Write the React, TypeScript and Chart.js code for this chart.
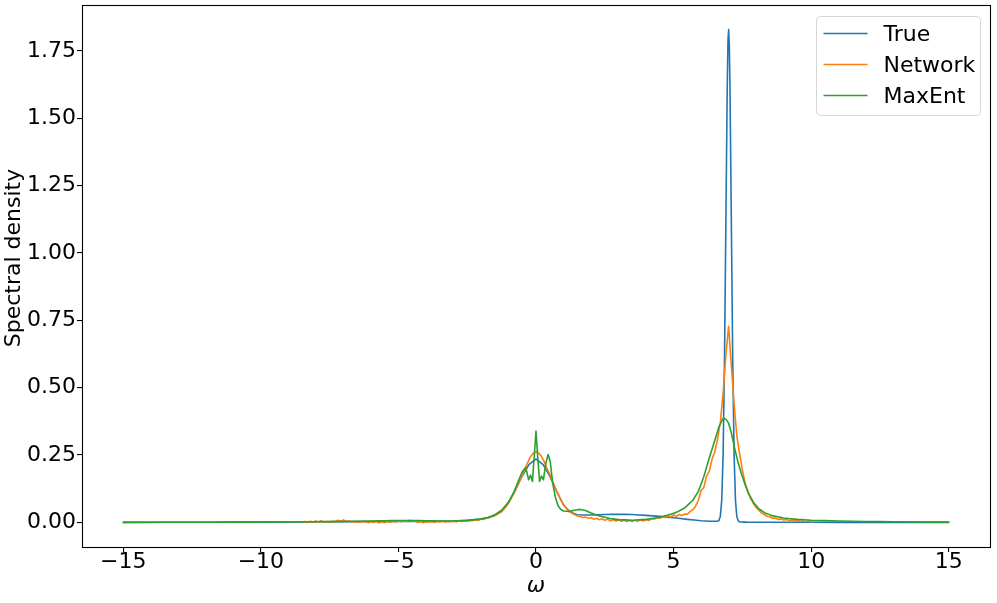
import React, { useEffect, useRef } from "react";
import { Chart, registerables } from "chart.js";

Chart.register(...registerables);

const FONT = '"DejaVu Sans", "Liberation Sans", sans-serif';

const xTickValues = [-15, -10, -5, 0, 5, 10, 15];
const yTickValues = [0, 0.25, 0.5, 0.75, 1, 1.25, 1.5, 1.75];
const seriesLabels = ["True", "Network", "MaxEnt"];
const seriesColors = ["#1f77b4", "#ff7f0e", "#2ca02c"];

const trueX = [
  -15, -12, -10, -8, -6, -4, -3, -2.5, -2, -1.75, -1.5, -1.25, -1, -0.75, -0.5, -0.25, 0, 0.25, 0.5, 0.75,
  1, 1.25, 1.5, 2, 2.5, 3, 3.5, 4, 4.5, 5, 5.5, 6, 6.3, 6.5, 6.6, 6.65, 6.7, 6.75, 6.8, 6.85,
  6.9, 6.95, 6.975, 7, 7.025, 7.05, 7.1, 7.15, 7.2, 7.25, 7.3, 7.35, 7.4, 7.5, 7.7, 8, 9, 10, 12, 15,
];
const trueY = [
  0, 0.0005, 0.001, 0.002, 0.003, 0.003, 0.005, 0.008, 0.012, 0.018, 0.025, 0.04, 0.072, 0.12, 0.172, 0.215, 0.235, 0.215, 0.172, 0.115,
  0.065, 0.038, 0.028, 0.027, 0.029, 0.03, 0.029, 0.026, 0.022, 0.017, 0.011, 0.006, 0.004, 0.004, 0.004, 0.007, 0.023, 0.083, 0.25, 0.596,
  1.11, 1.615, 1.774, 1.83, 1.774, 1.615, 1.11, 0.594, 0.248, 0.08, 0.021, 0.006, 0.002, 0.001, 0.0005, 0.0003, 0.0002, 0.0001, 0, 0,
];

const netX = [
  -8.5, -8.4, -8.3, -8.2, -8.1, -8.0, -7.9, -7.8, -7.7, -7.6,
  -7.5, -7.4, -7.3, -7.2, -7.1, -7.0, -6.9, -6.8, -6.7, -6.6,
  -6.5, -6.4, -6.3, -6.2, -6.1, -6.0, -5.9, -5.8, -5.7, -5.6,
  -5.5, -5.4, -5.3, -5.2, -5.1, -5.0, -4.9, -4.8, -4.7, -4.6,
  -4.5, -4.4, -4.3, -4.2, -4.1, -4.0, -3.9, -3.8, -3.7, -3.6,
  -3.5, -3.4, -3.3, -3.2, -3.1, -3.0, -2.9, -2.8, -2.7, -2.6,
  -2.5, -2.4, -2.3, -2.2, -2.1, -2.0, -1.9, -1.8, -1.7, -1.6,
  -1.5, -1.4, -1.3, -1.2, -1.1, -1.0, -0.9, -0.8, -0.7, -0.6,
  -0.5, -0.4, -0.3, -0.2, -0.1, 0.0, 0.1, 0.2, 0.3, 0.4,
  0.5, 0.6, 0.7, 0.8, 0.9, 1.0, 1.1, 1.2, 1.3, 1.4,
  1.5, 1.6, 1.7, 1.8, 1.9, 2.0, 2.1, 2.2, 2.3, 2.4,
  2.5, 2.6, 2.7, 2.8, 2.9, 3.0, 3.1, 3.2, 3.3, 3.4,
  3.5, 3.6, 3.7, 3.8, 3.9, 4.0, 4.1, 4.2, 4.3, 4.4,
  4.5, 4.6, 4.7, 4.8, 4.9, 5.0, 5.1, 5.2, 5.3, 5.4,
  5.5, 5.6, 5.7, 5.8, 5.9, 6.0, 6.1, 6.2, 6.3, 6.4,
  6.5, 6.6, 6.7, 6.8, 6.9, 7.0, 7.1, 7.2, 7.3, 7.4,
  7.5, 7.6, 7.7, 7.8, 7.9, 8.0, 8.1, 8.2, 8.3, 8.4,
  8.5, 8.6, 8.7, 8.8, 8.9, 9.0, 9.1, 9.2, 9.3, 9.4,
  9.5, 9.6, 9.7, 9.8, 9.9, 10.0,
];
const netY = [
  0.001, 0.003, -0.001, 0.004, 0.001, 0.005, 0.002, 0.006, 0.001, 0.003,
  0.0, 0.004, 0.002, 0.008, 0.004, 0.009, 0.003, 0.005, 0.001, 0.003,
  0.0, 0.002, 0.001, 0.003, -0.001, 0.002, 0.0, 0.003, -0.002, 0.002,
  -0.001, 0.003, 0.0, 0.004, 0.001, 0.005, 0.002, 0.006, 0.003, 0.008,
  0.004, 0.006, 0.0, 0.003, -0.001, 0.002, 0.001, 0.003, 0.0, 0.003,
  0.001, 0.004, 0.001, 0.003, 0.002, 0.004, 0.002, 0.005, 0.003, 0.006,
  0.004, 0.007, 0.006, 0.009, 0.008, 0.012, 0.011, 0.016, 0.017, 0.022,
  0.026, 0.031, 0.038, 0.046, 0.057, 0.072, 0.09, 0.108, 0.13, 0.152,
  0.176, 0.198, 0.222, 0.243, 0.256, 0.262, 0.257, 0.245, 0.225, 0.2,
  0.178, 0.152, 0.128, 0.105, 0.083, 0.066, 0.052, 0.042, 0.034, 0.029,
  0.024, 0.022, 0.018, 0.02, 0.015, 0.017, 0.012, 0.015, 0.01, 0.013,
  0.008, 0.012, 0.006, 0.01, 0.005, 0.009, 0.004, 0.008, 0.003, 0.007,
  0.003, 0.008, 0.004, 0.009, 0.005, 0.01, 0.007, 0.013, 0.012, 0.018,
  0.015, 0.021, 0.018, 0.024, 0.02, 0.027, 0.022, 0.029, 0.025, 0.031,
  0.03, 0.04, 0.047, 0.06, 0.082, 0.118, 0.13, 0.172, 0.19, 0.235,
  0.262, 0.31, 0.37, 0.48, 0.62, 0.728, 0.58, 0.44, 0.32, 0.255,
  0.195, 0.145, 0.115, 0.088, 0.07, 0.055, 0.045, 0.034, 0.029, 0.022,
  0.021, 0.015, 0.016, 0.011, 0.013, 0.009, 0.011, 0.007, 0.009, 0.005,
  0.007, 0.004, 0.006, 0.003, 0.005, 0.002,
];

const maxEntX = [
  -15, -12, -10, -8, -7, -6, -5.5, -5, -4.5, -4, -3.5, -3, -2.5, -2, -1.75, -1.5, -1.25, -1, -0.8, -0.6,
  -0.5, -0.37, -0.27, -0.2, -0.13, -0.06, 0, 0.06, 0.13, 0.2, 0.27, 0.35, 0.44, 0.52, 0.6, 0.7, 0.8, 0.9, 1.0, 1.2,
  1.4, 1.6, 1.8, 2.0, 2.3, 2.7, 3.0, 3.5, 4.0, 4.4, 4.8, 5.1, 5.4, 5.7, 5.9, 6.1, 6.3, 6.5, 6.65, 6.8,
  6.9, 7.0, 7.1, 7.23, 7.35, 7.48, 7.6, 7.72, 7.9, 8.08, 8.3, 8.57, 9.0, 9.5, 10, 11, 12, 13, 15,
];
const maxEntY = [
  0, 0.0005, 0.001, 0.002, 0.003, 0.005, 0.006, 0.007, 0.007, 0.006, 0.005, 0.005, 0.007, 0.012, 0.018, 0.028, 0.045, 0.075, 0.113, 0.163,
  0.188, 0.204, 0.158, 0.175, 0.152, 0.25, 0.339, 0.245, 0.152, 0.172, 0.158, 0.215, 0.252, 0.225, 0.15, 0.095, 0.062, 0.048, 0.042, 0.04,
  0.045, 0.048, 0.044, 0.035, 0.024, 0.014, 0.01, 0.008, 0.011, 0.017, 0.027, 0.037, 0.053, 0.082, 0.115, 0.17, 0.24, 0.305, 0.355, 0.386,
  0.383, 0.368, 0.332, 0.27, 0.22, 0.176, 0.14, 0.108, 0.075, 0.052, 0.036, 0.025, 0.016, 0.011, 0.008, 0.005, 0.003, 0.002, 0.001,
];

function toPoints(xs: number[], ys: number[]) {
  return xs.map((x, i) => ({ x, y: ys[i] }));
}

function fmtX(v: number) {
  return v < 0 ? "\u2212" + Math.abs(v) : String(v);
}

const LINE_W = 1.6;

const framePlugin = {
  id: "frameLegendTitle",
  afterDraw(chart: any) {
    const { ctx, chartArea: a } = chart;
    const L = Math.round(a.left);
    const T = Math.round(a.top);
    const R = Math.round(a.right);
    const B = Math.round(a.bottom);
    ctx.save();
    // frame
    ctx.strokeStyle = "#000";
    ctx.lineWidth = 1.1;
    ctx.strokeRect(L + 0.5, T + 0.5, R - L, B - T);

    // y-axis title
    ctx.save();
    ctx.translate(14.5, (T + B) / 2 - 18);
    ctx.rotate(-Math.PI / 2);
    ctx.font = `22px ${FONT}`;
    ctx.fillStyle = "#000";
    ctx.textAlign = "center";
    ctx.textBaseline = "middle";
    ctx.fillText("Spectral density", 0, 0);
    ctx.restore();

    // legend
    const boxW = 164;
    const boxH = 99;
    const bx = R - 10 - boxW + 0.5;
    const by = T + 11 + 0.5;
    ctx.beginPath();
    const r = 4;
    ctx.moveTo(bx + r, by);
    ctx.lineTo(bx + boxW - r, by);
    ctx.arcTo(bx + boxW, by, bx + boxW, by + r, r);
    ctx.lineTo(bx + boxW, by + boxH - r);
    ctx.arcTo(bx + boxW, by + boxH, bx + boxW - r, by + boxH, r);
    ctx.lineTo(bx + r, by + boxH);
    ctx.arcTo(bx, by + boxH, bx, by + boxH - r, r);
    ctx.lineTo(bx, by + r);
    ctx.arcTo(bx, by, bx + r, by, r);
    ctx.closePath();
    ctx.fillStyle = "rgba(255,255,255,0.8)";
    ctx.fill();
    ctx.strokeStyle = "rgba(204,204,204,0.8)";
    ctx.lineWidth = 1;
    ctx.stroke();

    ctx.font = `22px ${FONT}`;
    ctx.textAlign = "left";
    ctx.textBaseline = "middle";
    seriesLabels.forEach((lab, i) => {
      const cy = by + 17 + i * 31;
      ctx.beginPath();
      ctx.strokeStyle = seriesColors[i];
      ctx.lineWidth = LINE_W;
      ctx.moveTo(bx + 7, cy);
      ctx.lineTo(bx + 51, cy);
      ctx.stroke();
      ctx.fillStyle = "#000";
      ctx.fillText(lab, bx + 67, cy + 1.5);
    });
    ctx.restore();
  },
};

export default function App() {
  const canvasRef = useRef<HTMLCanvasElement | null>(null);

  useEffect(() => {
    if (!canvasRef.current) return;
    const tickFont = { family: FONT, size: 22, lineHeight: 0.9 };
    const lineStyle = {
      borderWidth: LINE_W,
      pointRadius: 0,
      fill: false,
      tension: 0.001,
      borderJoinStyle: "round",
      borderCapStyle: "round",
    };
    const chart = new Chart(canvasRef.current, {
      type: "line",
      data: {
        datasets: [
          {
            label: seriesLabels[0],
            data: toPoints(trueX, trueY),
            borderColor: seriesColors[0],
            backgroundColor: seriesColors[0],
            order: 2,
            ...lineStyle,
          },
          {
            label: seriesLabels[1],
            data: toPoints(netX, netY),
            borderColor: seriesColors[1],
            backgroundColor: seriesColors[1],
            order: 1,
            ...lineStyle,
          },
          {
            label: seriesLabels[2],
            data: toPoints(maxEntX, maxEntY),
            borderColor: seriesColors[2],
            backgroundColor: seriesColors[2],
            order: 0,
            ...lineStyle,
          },
        ],
      },
      options: {
        animation: false,
        responsive: false,
        devicePixelRatio: 1,
        events: [],
        layout: { padding: { top: 5, right: 7, bottom: 0, left: 0 } },
        plugins: {
          legend: { display: false },
          tooltip: { enabled: false },
          title: { display: false },
        },
        scales: {
          x: {
            type: "linear",
            min: -16.5,
            max: 16.5,
            afterBuildTicks: (s: any) => {
              s.ticks = xTickValues.map((v) => ({ value: v }));
            },
            afterFit: (s: any) => {
              s.height = 56;
              s.paddingLeft = 0;
              s.paddingRight = 0;
            },
            ticks: {
              font: tickFont,
              color: "#000",
              padding: 0,
              maxRotation: 0,
              minRotation: 0,
              autoSkip: false,
              callback: (v: any) => fmtX(Number(v)),
            },
            grid: {
              display: true,
              drawOnChartArea: false,
              drawTicks: true,
              tickLength: 5,
              color: "#000",
              lineWidth: 1.1,
            },
            border: { display: false },
            title: {
              display: true,
              text: "\u03c9",
              color: "#000",
              font: { family: FONT, size: 22, style: "italic", lineHeight: 1.2 },
              padding: { top: 0, bottom: 4 },
            },
          },
          y: {
            type: "linear",
            min: -0.0915,
            max: 1.92,
            afterBuildTicks: (s: any) => {
              s.ticks = yTickValues.map((v) => ({ value: v }));
            },
            afterFit: (s: any) => {
              s.width = 82;
              s.paddingTop = 0;
              s.paddingBottom = 0;
            },
            ticks: {
              font: tickFont,
              color: "#000",
              padding: 1,
              autoSkip: false,
              callback: (v: any) => Number(v).toFixed(2),
            },
            grid: {
              display: true,
              drawOnChartArea: false,
              drawTicks: true,
              tickLength: 5,
              color: "#000",
              lineWidth: 1.1,
            },
            border: { display: false },
            title: { display: false },
          },
        },
      },
      plugins: [framePlugin],
    } as any);
    return () => chart.destroy();
  }, []);

  return (
    <div style={{ position: "absolute", left: 0, top: 0, width: 997, height: 603, background: "#fff" }}>
      <canvas ref={canvasRef} width={997} height={603} style={{ display: "block", width: 997, height: 603 }} />
    </div>
  );
}
